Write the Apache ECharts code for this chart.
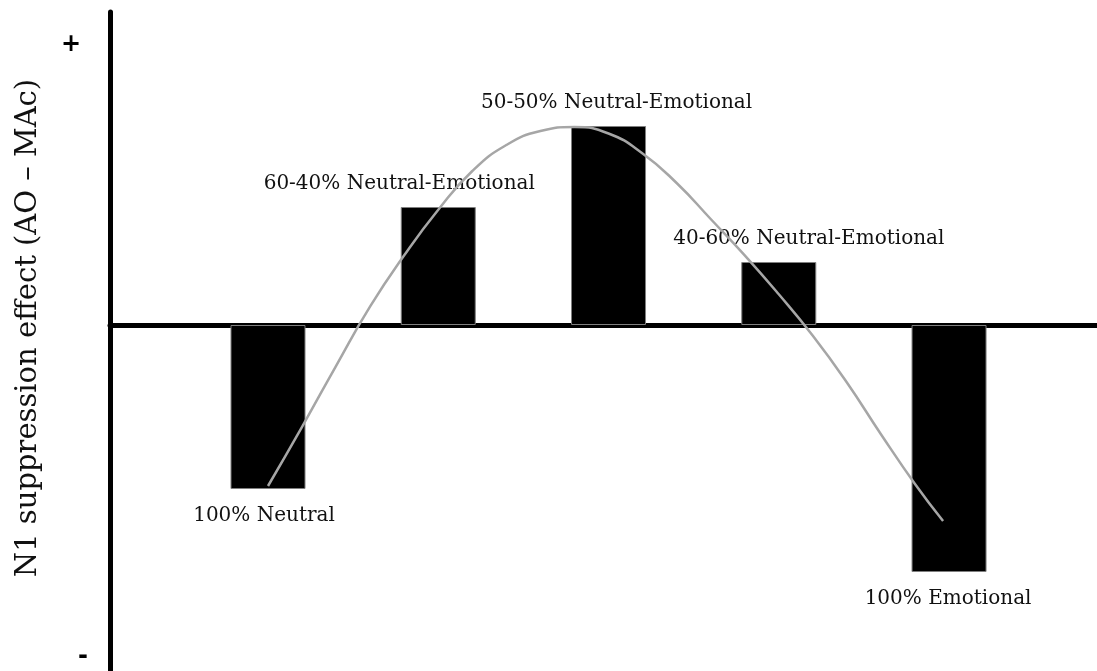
<!DOCTYPE html>
<html>
<head>
<meta charset="utf-8">
<script src="https://cdn.jsdelivr.net/npm/echarts@6/dist/echarts.min.js"></script>
<style>html,body{margin:0;padding:0;background:#fff;}#c{width:1097px;height:671px;}</style>
</head>
<body>
<div id="c"></div>
<script>
// Conditions (x positions 1..5) and their labels
var positions = [1, 2, 3, 4, 5];
var categories = ['100% Neutral', '60-40% Neutral-Emotional', '50-50% Neutral-Emotional', '40-60% Neutral-Emotional', '100% Emotional'];
// N1 suppression effect (arbitrary units)
var effect = [-1.64, 1.18, 1.99, 0.63, -2.47];
// Grey fitted curve: x (condition position) and y (effect)
var curveX = [1.0, 1.2, 1.4, 1.6, 1.8, 2.0, 2.2, 2.4, 2.6, 2.8, 3.0, 3.2, 3.4, 3.6, 3.8, 4.0, 4.2, 4.4, 4.6, 4.8, 4.965];
var curveY = [-1.61, -1.018, -0.408, 0.186, 0.697, 1.152, 1.54, 1.80, 1.94, 1.98, 1.915, 1.715, 1.42, 1.06, 0.697, 0.307, -0.108, -0.575, -1.092, -1.59, -1.96];
var yTitle = 'N1 suppression effect (AO \u2013 MAc)';

var labelFont = 'DejaVu Serif';
var labelOffsets = [[-4, 0], [-39, 0], [8, 0], [30, 0], [-1, 0]];

var barData = positions.map(function (p, i) {
  return {
    value: [p, effect[i]],
    label: {
      show: true,
      position: effect[i] >= 0 ? 'top' : 'bottom',
      distance: effect[i] >= 0 ? 13 : 17,
      offset: labelOffsets[i],
      formatter: categories[i],
      fontFamily: labelFont,
      fontSize: 20,
      color: '#111'
    }
  };
});
var curveData = curveX.map(function (x, i) { return [x, curveY[i]]; });

var chart = echarts.init(document.getElementById('c'), null, {renderer: 'canvas'});
chart.setOption({
  animation: false,
  backgroundColor: '#fff',
  grid: {left: 110, right: 0, top: 12, bottom: 0, containLabel: false},
  xAxis: {
    type: 'value', min: 0.072, max: 5.869,
    axisLine: {show: true, onZero: true, lineStyle: {color: '#000', width: 5}},
    axisTick: {show: false}, axisLabel: {show: false}, splitLine: {show: false}
  },
  yAxis: {
    type: 'value', min: -3.46, max: 3.13,
    axisLine: {show: true, lineStyle: {color: '#000', width: 5}},
    axisTick: {show: false}, axisLabel: {show: false}, splitLine: {show: false}
  },
  series: [
    {
      type: 'bar', data: barData, barWidth: 75, z: 2,
      itemStyle: {color: '#000', borderColor: '#7f7f7f', borderWidth: 1}
    },
    {
      type: 'line', data: curveData, smooth: 0.5, showSymbol: false, z: 3,
      lineStyle: {color: '#a6a6a6', width: 2.5}
    }
  ],
  graphic: [
    {type: 'text', x: 28, y: 328, rotation: Math.PI / 2,
     style: {text: yTitle, fontFamily: labelFont, fontSize: 29, fill: '#111', align: 'center', verticalAlign: 'middle'}},
    {type: 'text', x: 71, y: 45,
     style: {text: '+', fontFamily: 'DejaVu Sans', fontWeight: 'bold', fontSize: 24, fill: '#000', align: 'center', verticalAlign: 'middle'}},
    {type: 'text', x: 83, y: 657,
     style: {text: '-', fontFamily: 'DejaVu Sans', fontWeight: 'bold', fontSize: 24, fill: '#000', align: 'center', verticalAlign: 'middle'}}
  ]
});
</script>
</body>
</html>
